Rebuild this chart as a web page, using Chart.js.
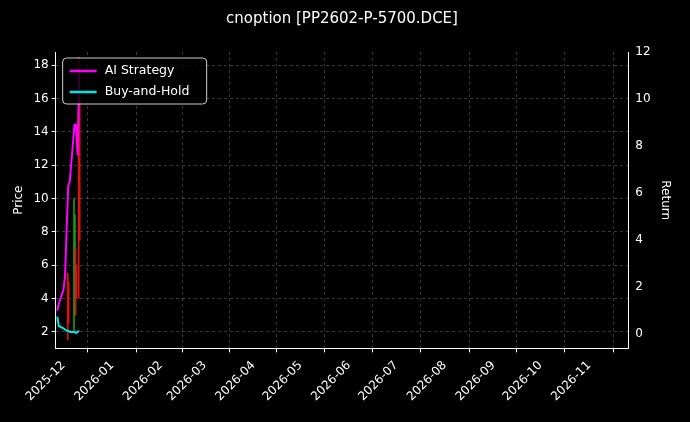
<!DOCTYPE html><html><head><script src="https://cdn.jsdelivr.net/npm/chart.js@4"></script>
<style>body{margin:0;background:#000}#w{width:690px;height:422px}</style></head><body><div id="w"><canvas id="c"></canvas></div>
<script>
const dayIdx=[-4,-3,0,1,2,3,4,7,8,9,10];
const aiReturn=[1.0,1.3,1.9,2.5,4.5,6.3,6.5,8.9,8.9,7.6,11.3];
const bhReturn=[0.75,0.35,0.25,0.2,0.15,0.15,0.1,0.1,0.05,0.1,0.15];
const candleDay=[3,7,8,10];
const candleOpen=[5,3,6,16];
const candleHigh=[5.5,10,7,18.5];
const candleLow=[1.5,2,3,4];
const candleClose=[2.5,9,4,7.5];
const monthOffsets=[0,31,62,90,121,151,182,212,243,274,304,335];
const monthLabels=['2025-12','2026-01','2026-02','2026-03','2026-04','2026-05','2026-06','2026-07','2026-08','2026-09','2026-10','2026-11'];
const col=i=>candleClose[i]>=candleOpen[i]?'#1a9a1a':'#e01010';
const wick=candleDay.map((d,i)=>({x:d,y:[candleLow[i],candleHigh[i]]}));
const body=candleDay.map((d,i)=>({x:d,y:[candleOpen[i],candleClose[i]]}));
const legendPlug={id:'lg',afterDraw(ch){const c=ch.ctx,a=ch.chartArea;c.save();const x=a.left+7,y=a.top+6;
c.fillStyle='rgba(0,0,0,0.8)';c.strokeStyle='#ccc';c.lineWidth=1;c.beginPath();c.roundRect(x,y,144,46,4);c.fill();c.stroke();
[['AI Strategy','#ff00ff'],['Buy-and-Hold','#00e5e5']].forEach((e,i)=>{const yy=y+13+i*21;c.strokeStyle=e[1];c.lineWidth=2.5;c.beginPath();c.moveTo(x+7,yy);c.lineTo(x+34,yy);c.stroke();
c.fillStyle='#fff';c.font='12.5px "DejaVu Sans"';c.textBaseline='middle';c.fillText(e[0],x+42,yy);});c.restore();}};
const bg={id:'bg',beforeDraw(ch){ch.ctx.fillStyle='#000';ch.ctx.fillRect(0,0,ch.width,ch.height);}};
const gridC='rgba(255,255,255,0.22)';
new Chart(document.getElementById('c'),{
data:{datasets:[
{type:'bar',data:wick,backgroundColor:candleDay.map((d,i)=>col(i)),barThickness:1,yAxisID:'y',order:3},
{type:'bar',data:body,backgroundColor:candleDay.map((d,i)=>col(i)),barThickness:1,yAxisID:'y',order:3},
{type:'line',data:dayIdx.map((d,i)=>({x:d,y:aiReturn[i]})),borderColor:'#ff00ff',borderWidth:2,pointRadius:0,yAxisID:'y1',order:1},
{type:'line',data:dayIdx.map((d,i)=>({x:d,y:bhReturn[i]})),borderColor:'#00e5e5',borderWidth:2,pointRadius:0,yAxisID:'y1',order:2}]},
options:{responsive:true,maintainAspectRatio:false,animation:false,
layout:{padding:{left:8,right:14,top:6,bottom:12}},
plugins:{legend:{display:false},tooltip:{enabled:false},title:{display:true,text:'cnoption [PP2602-P-5700.DCE]',color:'#fff',font:{size:15,family:'DejaVu Sans',weight:'normal'},padding:{top:4,bottom:24}}},
scales:{
x:{type:'linear',min:-5,max:360,offset:false,afterBuildTicks:s=>{s.ticks=monthOffsets.map(v=>({value:v}));},
ticks:{color:'#fff',font:{size:12,family:'DejaVu Sans'},maxRotation:45,minRotation:45,autoSkip:false,padding:6,callback:v=>monthLabels[monthOffsets.indexOf(v)]},
grid:{color:gridC,tickColor:'#fff',tickLength:4},border:{color:'#fff',dash:[3,3]}},
y:{position:'left',min:1,max:18.8,afterBuildTicks:s=>{s.ticks=[2,4,6,8,10,12,14,16,18].map(v=>({value:v}));},
title:{display:true,text:'Price',color:'#fff',font:{size:12,family:'DejaVu Sans'}},
ticks:{color:'#fff',font:{size:12,family:'DejaVu Sans'}},grid:{color:gridC,tickColor:'#fff',tickLength:4},border:{color:'#fff',dash:[3,3]}},
y1:{position:'right',min:-0.6,max:12,afterBuildTicks:s=>{s.ticks=[0,2,4,6,8,10,12].map(v=>({value:v}));},
title:{display:true,text:'Return',color:'#fff',font:{size:12,family:'DejaVu Sans'}},
ticks:{color:'#fff',font:{size:12,family:'DejaVu Sans'}},grid:{display:false,tickColor:'#fff',tickLength:4},border:{color:'#fff'}}}},
plugins:[bg,legendPlug]});
</script></body></html>
